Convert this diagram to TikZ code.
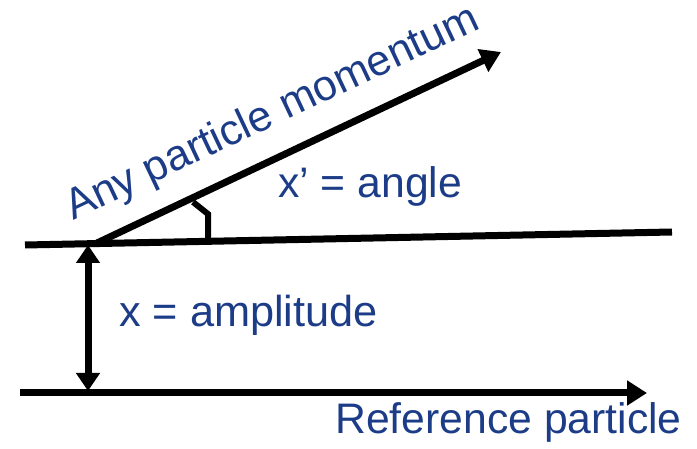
\documentclass[tikz,border=0pt]{standalone}
\usepackage{fontspec}
\setmainfont{Liberation Sans}
\usetikzlibrary{arrows.meta}
\definecolor{navy}{RGB}{28,60,135}
\tikzset{
  thick line/.style={line width=7pt, line cap=butt},
  tip/.style={-{Triangle[length=20pt,width=24pt]}},
  lbl/.style={text=navy, inner sep=0pt, anchor=base west},
}
\begin{document}
\begin{tikzpicture}[x={(1pt,0)}, y={(0,-1pt)}]
\useasboundingbox (0,0) rectangle (697,449);
% coordinates
\coordinate (refL) at (20,393);
\coordinate (refR) at (647,393);
\coordinate (topL) at (25,245);
\coordinate (topR) at (672,232);
\coordinate (mStart) at (97,243);
\coordinate (mEnd) at (501,52);
\coordinate (vTop) at (88,245);
\coordinate (vBot) at (88,391);
\coordinate (a1) at (193,202);
\coordinate (a2) at (208,214);
\coordinate (a3) at (208,238);
% lines
\draw[thick line, tip] (refL) -- (refR);
\draw[thick line] (topL) -- (topR);
\draw[thick line, tip] (mStart) -- (mEnd);
\draw[thick line, {Triangle[length=18pt,width=23pt]}-{Triangle[length=18pt,width=23pt]}] (vTop) -- (vBot);
\draw[line width=6pt, line join=miter] (a1) -- (a2) -- (a3);
% labels
\node[lbl, font=\fontsize{43}{43}\selectfont, rotate=25.3] (mom) at (73,221) {Any particle momentum};
\node[lbl, font=\fontsize{42.7}{42.7}\selectfont] (ang) at (278,198) {x’ = angle};
\node[lbl, font=\fontsize{43.3}{43.3}\selectfont] (amp) at (119,327) {x = amplitude};
\node[lbl, font=\fontsize{42.7}{42.7}\selectfont] (ref) at (335,434) {Reference particle};
\end{tikzpicture}
\end{document}
